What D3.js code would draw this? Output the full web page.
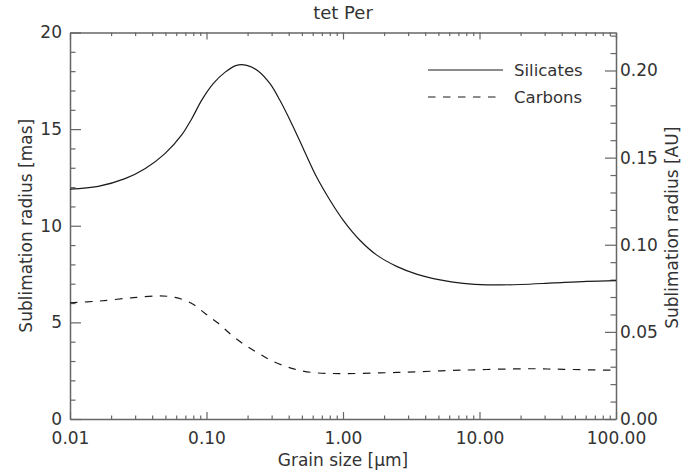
<!DOCTYPE html>
<html>
<head>
<meta charset="utf-8">
<script src="https://cdn.jsdelivr.net/npm/d3@7"></script>
<style>
  html, body { margin: 0; padding: 0; background: #fff; }
  svg { display: block; }
  text { font-family: "DejaVu Sans", sans-serif; fill: #333; }
</style>
</head>
<body>
<svg id="chart" width="686" height="471"></svg>
<script>
// ---- data ----
const title = "tet Per";
const silicateSize = [0.01, 0.0161, 0.0253, 0.0354, 0.0496, 0.0658, 0.078, 0.0923, 0.112, 0.137, 0.166, 0.197, 0.24, 0.292, 0.345, 0.421, 0.512, 0.641, 0.803, 1.005, 1.33, 1.77, 2.47, 3.46, 5.14, 7.6, 11.3, 19.8, 34.8, 61, 100];
const silicateRadius = [11.9, 12.04, 12.44, 12.95, 13.73, 14.7, 15.54, 16.5, 17.35, 17.95, 18.3, 18.3, 18.0, 17.35, 16.49, 15.28, 13.99, 12.52, 11.32, 10.28, 9.25, 8.48, 7.9, 7.5, 7.2, 7.02, 6.94, 6.96, 7.04, 7.12, 7.16];
const carbonSize = [0.01, 0.0161, 0.0283, 0.0444, 0.0588, 0.078, 0.0976, 0.122, 0.153, 0.192, 0.24, 0.301, 0.421, 0.59, 0.925, 2.47, 7.6, 23.4, 41.1, 100];
const carbonRadius = [6.01, 6.10, 6.27, 6.37, 6.29, 5.98, 5.46, 4.95, 4.34, 3.82, 3.40, 3.01, 2.62, 2.41, 2.35, 2.41, 2.53, 2.60, 2.57, 2.52];
const xTickValues = [0.01, 0.1, 1, 10, 100];
const xTickLabels = ["0.01", "0.10", "1.00", "10.00", "100.00"];
const yLeftTicks = [0, 5, 10, 15, 20];
const yRightTicks = [0, 0.05, 0.10, 0.15, 0.20];
const yRightMax = 0.2218; // AU corresponding to 20 mas
const seriesNames = ["Silicates", "Carbons"];
const xLabel = "Grain size [\u03bcm]";
const yLeftLabel = "Sublimation radius [mas]";
const yRightLabel = "Sublimation radius [AU]";

// ---- layout ----
const W = 686, H = 471;
const L = 70, R = 616, T = 32.5, B = 419;
const axisColor = "#666";
const lineColor = "#1a1a1a";
const FS = "17px";

const svg = d3.select("#chart");

const x = d3.scaleLog().domain([0.01, 100]).range([L, R]);
const yL = d3.scaleLinear().domain([0, 20]).range([B, T]);
const yR = d3.scaleLinear().domain([0, yRightMax]).range([B, T]);

// minor ticks
const xMinor = [];
for (let e = -2; e < 2; e++) for (let m = 2; m <= 9; m++) xMinor.push(m * Math.pow(10, e));
const yLMinor = d3.range(0, 21, 1).filter(v => v % 5 !== 0);
const yRMinor = d3.range(0, 23).map(i => i / 100).filter(v => v <= yRightMax && Math.round(v * 100) % 5 !== 0);

function styleAxis(g) {
  g.select(".domain").attr("stroke", axisColor).attr("stroke-width", 1.5);
  g.selectAll(".tick line").attr("stroke", axisColor).attr("stroke-width", 1.2);
  g.selectAll(".tick text").attr("fill", "#333").style("font-size", FS).style("font-family", "DejaVu Sans, sans-serif");
}

// bottom axis (major with labels)
const gB = svg.append("g").attr("transform", `translate(0,${B})`)
  .call(d3.axisBottom(x).tickValues(xTickValues).tickSizeInner(-7).tickSizeOuter(0).tickPadding(13)
    .tickFormat((d, i) => xTickLabels[i]));
styleAxis(gB);
const gBm = svg.append("g").attr("transform", `translate(0,${B})`)
  .call(d3.axisBottom(x).tickValues(xMinor).tickSize(-3.5).tickFormat(""));
styleAxis(gBm); gBm.select(".domain").remove();

// top axis (mirror, no labels)
const gT = svg.append("g").attr("transform", `translate(0,${T})`)
  .call(d3.axisTop(x).tickValues(xTickValues).tickSizeInner(-7).tickSizeOuter(0).tickFormat(""));
styleAxis(gT);
const gTm = svg.append("g").attr("transform", `translate(0,${T})`)
  .call(d3.axisTop(x).tickValues(xMinor).tickSize(-3.5).tickFormat(""));
styleAxis(gTm); gTm.select(".domain").remove();

// left axis
const gL = svg.append("g").attr("transform", `translate(${L},0)`)
  .call(d3.axisLeft(yL).tickValues(yLeftTicks).tickSizeInner(-11).tickSizeOuter(0).tickPadding(8)
    .tickFormat(d3.format("d")));
styleAxis(gL);
const gLm = svg.append("g").attr("transform", `translate(${L},0)`)
  .call(d3.axisLeft(yL).tickValues(yLMinor).tickSize(-5.5).tickFormat(""));
styleAxis(gLm); gLm.select(".domain").remove();

// right axis
const gR = svg.append("g").attr("transform", `translate(${R},0)`)
  .call(d3.axisRight(yR).tickValues(yRightTicks).tickSizeInner(-11).tickSizeOuter(0).tickPadding(4)
    .tickFormat(d3.format(".2f")));
styleAxis(gR);
const gRm = svg.append("g").attr("transform", `translate(${R},0)`)
  .call(d3.axisRight(yR).tickValues(yRMinor).tickSize(-5.5).tickFormat(""));
styleAxis(gRm); gRm.select(".domain").remove();

// lines
const sil = silicateSize.map((a, i) => ({ a, v: silicateRadius[i] }));
const car = carbonSize.map((a, i) => ({ a, v: carbonRadius[i] }));
const line = d3.line().x(d => x(d.a)).y(d => yL(d.v)).curve(d3.curveCatmullRom.alpha(0.5));

svg.append("path").datum(sil).attr("d", line)
  .attr("fill", "none").attr("stroke", lineColor).attr("stroke-width", 1.2);
svg.append("path").datum(car).attr("d", line)
  .attr("fill", "none").attr("stroke", lineColor).attr("stroke-width", 1.2)
  .attr("stroke-dasharray", "7.5,7.5");

// legend
const legend = svg.append("g");
const legY = [70, 97];
legend.append("line").attr("x1", 428).attr("x2", 503).attr("y1", legY[0]).attr("y2", legY[0])
  .attr("stroke", lineColor).attr("stroke-width", 1.2);
legend.append("line").attr("x1", 428).attr("x2", 503).attr("y1", legY[1]).attr("y2", legY[1])
  .attr("stroke", lineColor).attr("stroke-width", 1.2).attr("stroke-dasharray", "7.5,7.5");
seriesNames.forEach((n, i) => {
  legend.append("text").attr("x", 514).attr("y", legY[i]).attr("dy", "0.36em")
    .style("font-size", "16.5px").text(n);
});

// titles
svg.append("text").attr("x", (L + R) / 2).attr("y", 19).attr("text-anchor", "middle")
  .style("font-size", "18px").text(title);
svg.append("text").attr("x", (L + R) / 2).attr("y", 466).attr("text-anchor", "middle")
  .style("font-size", FS).text(xLabel);
svg.append("text").attr("transform", `translate(32,${(T + B) / 2}) rotate(-90)`).attr("text-anchor", "middle")
  .style("font-size", FS).text(yLeftLabel);
svg.append("text").attr("transform", `translate(678,${(T + B) / 2 + 2}) rotate(-90)`).attr("text-anchor", "middle")
  .style("font-size", FS).text(yRightLabel);
</script>
</body>
</html>
